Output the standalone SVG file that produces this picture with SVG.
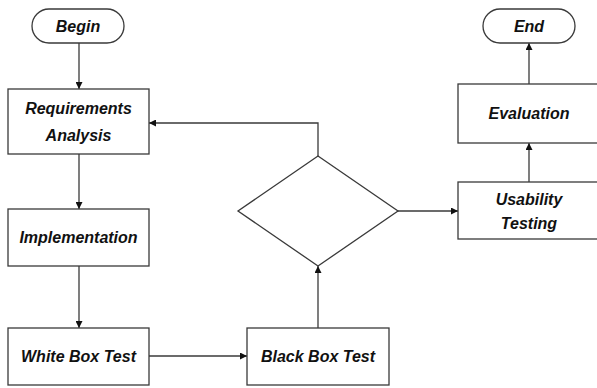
<svg xmlns="http://www.w3.org/2000/svg" width="597" height="388" viewBox="0 0 597 388">
<defs>
<style>
.n{fill:#fff;stroke:#3a3a3a;stroke-width:1.3}
.t{font-family:"Liberation Sans",Arial,sans-serif;font-weight:bold;font-style:italic;font-size:16px;fill:#111;text-anchor:middle;dominant-baseline:central}
.c{fill:none;stroke:#3a3a3a;stroke-width:1.3;marker-end:url(#a)}
</style>
<marker id="a" viewBox="0 0 10 10" refX="10" refY="5" markerWidth="7" markerHeight="7" markerUnits="userSpaceOnUse" orient="auto">
<path d="M0,0 L10,5 L0,10 z" fill="#111"/>
</marker>
</defs>
<rect width="597" height="388" fill="#fff"/>
<g id="connectors">
<path class="c" d="M79,43 V89"/>
<path class="c" d="M79,154 V209"/>
<path class="c" d="M79,266 V328"/>
<path class="c" d="M149,356 H247"/>
<path class="c" d="M318,328 V266"/>
<path class="c" d="M318,156 V123 H149"/>
<path class="c" d="M398,211 H458"/>
<path class="c" d="M529,182 V143"/>
<path class="c" d="M529,84 V43"/>
</g>
<g id="begin"><rect class="n" x="32" y="9" width="92" height="34" rx="17"/><text class="t" x="78" y="26">Begin</text></g>
<g id="requirements"><rect class="n" x="8" y="89" width="141" height="65"/><text class="t" x="78.5" y="108">Requirements</text><text class="t" x="78.5" y="135">Analysis</text></g>
<g id="implementation"><rect class="n" x="8" y="209" width="141" height="57"/><text class="t" x="78.5" y="237.5">Implementation</text></g>
<g id="whitebox"><rect class="n" x="8" y="328" width="141" height="57"/><text class="t" x="78.5" y="356.5">White Box Test</text></g>
<g id="blackbox"><rect class="n" x="247" y="328" width="142" height="57"/><text class="t" x="318" y="356.5">Black Box Test</text></g>
<g id="decision"><polygon class="n" points="318,156 398,211 318,266 238,211"/></g>
<g id="usability"><rect class="n" x="458" y="182" width="145" height="57"/><text class="t" x="529" y="199">Usability</text><text class="t" x="529" y="223">Testing</text></g>
<g id="evaluation"><rect class="n" x="458" y="84" width="145" height="59"/><text class="t" x="529" y="113.5">Evaluation</text></g>
<g id="end"><rect class="n" x="483" y="9" width="92" height="34" rx="17"/><text class="t" x="529" y="26">End</text></g>
</svg>
